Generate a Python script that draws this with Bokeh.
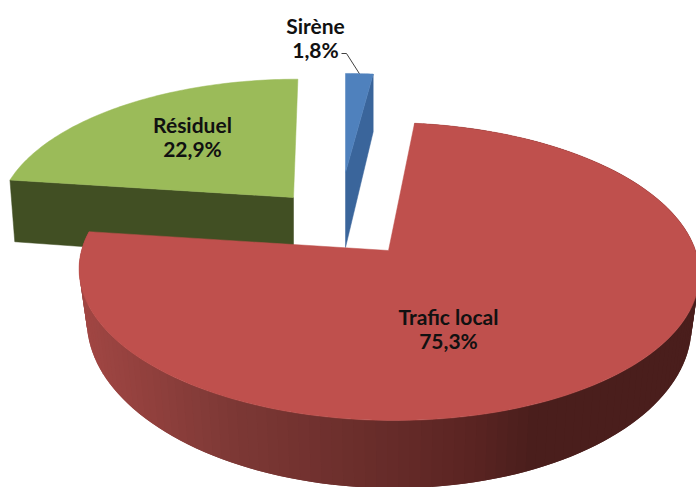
import numpy as np
from bokeh.plotting import figure
from bokeh.models import Range1d
from bokeh.core.properties import value
from bokeh.embed import file_html
from bokeh.resources import INLINE

categories = ["Sirène", "Trafic local", "Résiduel"]
values = [1.8, 75.3, 22.9]

K = 0.141
# per-slice projection: apex x/y, radii, skew, wall height, bottom shrink
GEOM = {
    "Sirène": dict(ax=345, ay=172, rx=280, ry=113, lean=0, h=75, b=1.0),
    "Trafic local": dict(ax=388, ay=250, rx=307, ry=146, lean=-5, h=50, b=0.975),
    "Résiduel": dict(ax=293, ay=197, rx=292, ry=135, lean=5, h=64, b=0.983),
}
TOP = {"Sirène": "#4F81BD", "Trafic local": "#BF504D", "Résiduel": "#9BBB59"}
WALL = {"Sirène": "#3A659B", "Résiduel": "#414F23"}
LABEL_POS = {"Sirène": (315, 25), "Trafic local": (448, 316), "Résiduel": (192, 124)}
LINE_GAP = 24


def project(g, theta):
    X, Y = np.sin(theta), np.cos(theta)
    s = 1 / (1 + K * Y)
    return g["ax"] + (g["rx"] * X + g["lean"] * Y) * s, g["ay"] - g["ry"] * Y * s, s


def floor(g, x, y, s):
    return g["ax"] + (x - g["ax"]) * g["b"], y + g["h"] * s * s


spans, start = {}, 0.0
for c, v in zip(categories, values):
    end = start + v / sum(values) * 2 * np.pi
    spans[c] = (start, end)
    start = end

p = figure(width=696, height=487, output_backend="svg", toolbar_location=None,
           x_range=Range1d(0, 696), y_range=Range1d(487, 0),
           min_border=0, outline_line_color=None, background_fill_color="white")
p.axis.visible = False
p.grid.visible = False

# Résiduel
g = GEOM["Résiduel"]
a0, a1 = spans["Résiduel"]
th = np.linspace(a0, a1, 80)
x, y, s = project(g, th)
xb0, yb0 = floor(g, x[0], y[0], s[0])
p.patch([x[0], g["ax"], g["ax"], xb0], [y[0], g["ay"], g["ay"] + g["h"], yb0],
        fill_color=WALL["Résiduel"], line_color=WALL["Résiduel"], line_width=0.5)
p.patch(np.r_[g["ax"], x], np.r_[g["ay"], y], fill_color=TOP["Résiduel"],
        line_color=TOP["Résiduel"], line_width=0.5)

# Sirène
g = GEOM["Sirène"]
a0, a1 = spans["Sirène"]
th = np.linspace(a0, a1, 12)
x, y, s = project(g, th)
xb1, yb1 = floor(g, x[-1], y[-1], s[-1])
p.patch([x[-1], xb1, g["ax"], g["ax"]], [y[-1], yb1, g["ay"] + g["h"], g["ay"]],
        fill_color=WALL["Sirène"], line_color=WALL["Sirène"], line_width=0.5)
p.patch(np.r_[g["ax"], x], np.r_[g["ay"], y], fill_color=TOP["Sirène"],
        line_color=TOP["Sirène"], line_width=0.5)
mx, my, _ = project(g, (a0 + a1) / 2)
p.line([341, 346, mx], [53, 53, my], line_color="#404040", line_width=1)

# Trafic local: shaded rim, then top
g = GEOM["Trafic local"]
a0, a1 = spans["Trafic local"]
edges = np.linspace(a0, a1, 150)
step = edges[1] - edges[0]
sx, sc = [86, 222, 465, 530, 700], np.array([(160, 70, 67), (126, 57, 54), (91, 37, 35), (74, 30, 28), (74, 30, 28)])
for t0 in edges[:-1]:
    t1 = t0 + step * 2
    x0, y0, s0 = project(g, t0)
    x1, y1, s1 = project(g, min(t1, a1))
    u0, v0 = floor(g, x0, y0, s0)
    u1, v1 = floor(g, x1, y1, s1)
    xm = (x0 + x1) / 2
    col = "#%02x%02x%02x" % tuple(int(np.interp(xm, sx, sc[:, i])) for i in range(3))
    p.patch([x0, x1, u1, u0], [y0, y1, v1, v0], fill_color=col, line_color=None)
th = np.linspace(a0, a1, 240)
x, y, s = project(g, th)
p.patch(np.r_[g["ax"], x], np.r_[g["ay"], y], fill_color=TOP["Trafic local"],
        line_color=TOP["Trafic local"], line_width=0.5)

# Labels
for c, v in zip(categories, values):
    lx, ly = LABEL_POS[c]
    pct = f"{v:.1f}%".replace(".", ",")
    p.text([lx, lx], [ly, ly + LINE_GAP], text=[c, pct], text_align="center",
           text_baseline="middle", text_font=value("Lato"), text_font_size="21px",
           text_font_style="bold", text_color="#111111")

open("out.html", "w").write(file_html(p, INLINE))
